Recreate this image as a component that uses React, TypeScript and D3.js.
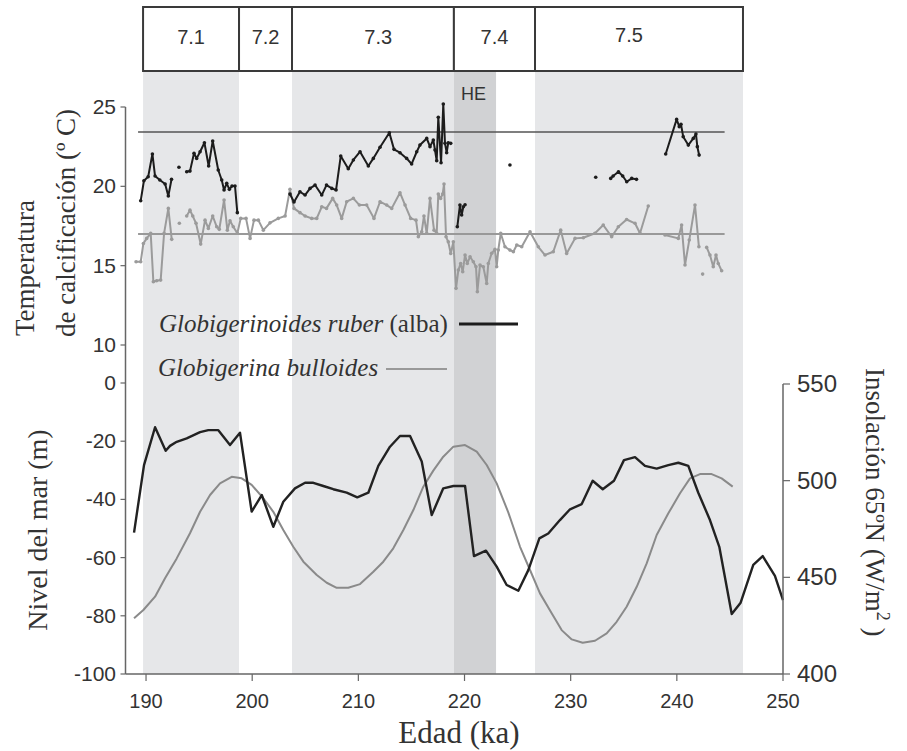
import React from 'react';
import * as d3 from 'd3';

// MIS 7 substages (ka) and the Heinrich event band
const stageLabels = ['7.1', '7.2', '7.3', '7.4', '7.5'];
const stageBounds = [189.72, 198.76, 203.75, 219.0, 226.64, 246.23];
const stageLabelAges = [189.72 + 4.52, 198.76 + 2.5, 203.75 + 8.12, 219.0 + 3.82, 235.49];
const shadedStages = ['7.1', '7.3', '7.5'];
const heBand = [219.0, 222.97];

// reference temperatures (ºC)
const ruberRef = 23.42;
const bulloidesRef = 17.0;
const refLineAges = [189.25, 244.5];

// Globigerinoides ruber (alba) temperature segments [age ka, ºC]
const ruberSegments: number[][][] = [
  [[189.5, 19.09], [189.8, 20.35], [190.2, 20.6], [190.6, 22.04], [190.85, 20.65], [191.3, 20.4], [191.8, 20.15], [192.1, 19.39], [192.4, 20.44]],
  [[193.1, 21.2]],
  [[193.83, 20.92], [194.14, 20.96], [194.52, 22.08], [194.77, 21.76], [195.09, 22.18], [195.5, 22.75], [195.9, 21.28], [196.28, 22.86], [196.8, 21.03], [197.13, 20.4], [197.35, 19.77], [197.6, 20.19], [197.85, 19.81], [198.1, 20.02], [198.38, 20.02], [198.6, 18.34]],
  [[203.56, 19.51], [203.94, 19.01], [204.5, 19.66], [204.98, 19.45], [205.45, 19.87], [205.92, 20.08], [206.55, 19.45], [207.0, 20.08], [207.5, 19.87], [207.9, 19.77], [208.34, 21.91], [209.05, 21.11], [209.53, 21.66], [210.16, 22.18], [210.94, 21.28], [211.41, 21.76], [212.04, 22.46], [212.92, 23.38], [213.36, 22.33], [213.92, 22.12], [214.55, 21.76], [215.02, 21.41], [215.5, 22.18], [215.8, 22.6], [216.44, 23.02], [216.75, 22.5], [217.06, 22.92], [217.22, 22.29], [217.38, 21.61], [217.53, 24.35], [217.79, 21.49], [218.0, 25.19], [218.16, 22.71], [218.32, 22.12], [218.47, 22.75], [218.7, 22.71]],
  [[219.32, 17.45], [219.57, 18.82], [219.73, 18.19], [219.89, 18.71]],
  [[220.05, 18.84]],
  [[224.28, 21.34]],
  [[232.36, 20.57]],
  [[233.77, 20.5], [234.0, 20.65], [234.5, 20.92], [234.9, 20.65], [235.28, 20.29], [235.75, 20.5], [236.2, 20.44]],
  [[238.95, 22.04], [239.98, 24.22], [240.23, 23.76], [240.39, 23.91], [240.6, 23.13], [241.08, 22.6], [241.55, 23.02], [241.8, 23.3], [241.93, 22.5], [242.1, 21.97]],
];

// Globigerina bulloides temperature segments [age ka, ºC]
const bulloidesSegments: number[][][] = [
  [[189.06, 15.25], [189.5, 15.25], [189.75, 16.4], [190.06, 16.72], [190.44, 17.04], [190.69, 13.99], [191.0, 14.05], [191.38, 14.09], [191.7, 17.04], [192.1, 18.61], [192.42, 16.66]],
  [[193.14, 17.67]],
  [[193.83, 18.13], [194.14, 18.5], [194.4, 18.13], [194.71, 17.67], [195.15, 16.36], [195.56, 17.87], [195.87, 17.35], [196.28, 18.13], [196.66, 17.45], [196.9, 17.29], [197.35, 19.14], [197.66, 17.24], [197.91, 17.83], [198.22, 17.45], [198.6, 17.04], [198.92, 17.98], [199.42, 17.98], [199.8, 16.72], [200.17, 17.87], [200.58, 17.87], [201.05, 17.24], [201.68, 17.7], [202.46, 17.98], [203.1, 18.13], [203.56, 19.81], [203.94, 18.61], [204.5, 18.34], [204.98, 18.13], [205.6, 17.98], [206.08, 17.98], [206.55, 18.71], [207.0, 18.61], [207.58, 19.24], [207.96, 18.82], [208.43, 17.98], [208.9, 19.03], [209.53, 19.24], [210.1, 18.82], [210.78, 18.82], [211.47, 17.98], [212.04, 19.03], [212.67, 18.82], [213.14, 18.61], [213.92, 19.6], [214.4, 18.82], [214.93, 17.98], [215.43, 17.87], [215.65, 16.82], [215.97, 17.14], [216.18, 18.13], [216.44, 17.04], [216.75, 19.24], [217.13, 17.24], [217.38, 17.04], [217.53, 19.51], [217.75, 19.24], [217.94, 19.51], [218.07, 20.14], [218.26, 16.82], [218.47, 16.5], [218.7, 15.77], [218.95, 16.5], [219.2, 13.57], [219.42, 14.72], [219.64, 15.14], [219.83, 14.62], [220.05, 15.67], [220.26, 15.14], [220.52, 15.56], [220.83, 15.25], [221.08, 14.93], [221.21, 13.36], [221.46, 15.04], [221.77, 14.93], [222.09, 13.88], [222.24, 15.14], [222.56, 15.78], [222.87, 16.03], [223.03, 14.93], [223.18, 15.98], [223.41, 17.04], [223.81, 16.19], [224.28, 15.98], [224.6, 15.88], [224.92, 16.3], [225.39, 16.19], [226.17, 17.14], [226.95, 16.19], [227.58, 15.67], [228.36, 15.88], [229.06, 17.24], [229.62, 15.77], [230.41, 16.72], [231.19, 16.76], [232.29, 17.04], [233.07, 17.56], [233.86, 16.82], [234.49, 17.45], [235.27, 17.91], [236.06, 17.67], [236.53, 17.04], [237.31, 18.76]],
  [[238.88, 16.93], [240.14, 16.72], [240.45, 17.56], [240.77, 15.04], [241.17, 16.61], [241.71, 18.82], [242.08, 16.19]],
  [[242.43, 14.47]],
  [[242.81, 16.15], [243.12, 15.67], [243.43, 14.93], [243.69, 15.67], [243.9, 15.14], [244.22, 14.68]],
];

// sea level (m) [age ka, m]
const seaLevel: number[][] = [
  [188.87, -51.4], [189.81, -28.2], [190.85, -15.2], [191.85, -23.3], [192.26, -21.6], [192.89, -20.2], [193.83, -19.0], [195.09, -16.9], [195.87, -16.2], [196.81, -16.2], [197.91, -21.3], [198.85, -17.1], [199.95, -44.2], [200.9, -38.5], [201.99, -49.4], [202.93, -40.8], [204.03, -36.2], [204.98, -34.3], [205.76, -34.3], [206.7, -35.4], [207.64, -36.5], [208.9, -37.7], [209.9, -39.3], [210.94, -37.7], [211.88, -28.5], [212.98, -21.9], [213.92, -18.2], [214.87, -18.2], [215.97, -27.0], [216.91, -45.4], [218.0, -36.2], [218.95, -35.4], [220.05, -35.4], [220.89, -59.5], [222.02, -57.6], [223.03, -63.1], [223.97, -69.4], [225.07, -71.4], [226.01, -64.3], [227.05, -53.4], [227.89, -51.7], [228.99, -47.1], [229.94, -43.4], [231.04, -41.6], [232.07, -33.6], [233.02, -36.5], [234.08, -33.6], [235.02, -26.5], [236.06, -25.5], [237.0, -28.5], [238.1, -29.4], [239.2, -28.2], [240.14, -27.4], [241.08, -28.5], [242.02, -37.7], [243.12, -47.1], [244.0, -56.3], [245.17, -79.4], [246.01, -75.5], [247.2, -62.5], [248.09, -59.5], [249.24, -66.3], [250.0, -74.6],
];

// 65ºN summer insolation (W/m2) [age ka, W/m2]
const insolation: number[][] = [
  [188.87, 428.8], [189.75, 433.1], [190.85, 440.0], [191.79, 449.5], [192.89, 459.8], [194.14, 472.8], [195.09, 483.9], [196.03, 492.6], [196.97, 498.6], [198.07, 502.0], [199.01, 501.2], [199.95, 497.8], [201.05, 490.9], [201.99, 483.9], [202.93, 474.5], [203.87, 465.8], [204.82, 458.1], [206.08, 451.2], [207.02, 447.2], [207.96, 444.6], [209.05, 444.6], [210.16, 446.5], [211.41, 452.9], [212.35, 458.1], [213.29, 465.0], [214.24, 474.5], [215.18, 484.8], [216.12, 496.9], [217.06, 505.2], [218.0, 512.4], [218.95, 517.6], [220.05, 518.4], [221.15, 515.0], [222.09, 508.1], [223.03, 498.6], [224.13, 483.5], [225.23, 465.8], [226.17, 453.8], [227.11, 441.7], [228.21, 431.4], [229.15, 422.7], [230.1, 417.9], [231.13, 416.2], [232.29, 417.2], [233.39, 421.0], [234.33, 427.0], [235.27, 434.8], [236.22, 445.1], [237.16, 457.2], [238.1, 471.9], [239.2, 483.1], [240.3, 493.5], [241.24, 501.2], [242.18, 503.4], [243.28, 503.4], [244.22, 501.2], [245.26, 496.9],
];

const ageTicks = [190, 200, 210, 220, 230, 240, 250];
const tempTicks = [25, 20, 15, 10];
const seaTicks = [0, -20, -40, -60, -80, -100];
const insolTicks = [400, 450, 500, 550];

const SERIF = '"Liberation Serif", "DejaVu Serif", serif';
const SANS = '"Liberation Sans", Arial, sans-serif';

export default function App() {
  const x = d3.scaleLinear().domain([188, 250]).range([124.8, 783]);
  const yTemp = d3.scaleLinear().domain([10, 25]).range([345, 107]);
  const ySea = d3.scaleLinear().domain([-100, 0]).range([674, 383]);
  const yIns = d3.scaleLinear().domain([400, 550]).range([674, 384]);

  const tempLine = d3.line<number[]>().x(d => x(d[0])).y(d => yTemp(d[1]));
  const seaLine = d3.line<number[]>().x(d => x(d[0])).y(d => ySea(d[1]));
  const insLine = d3.line<number[]>().x(d => x(d[0])).y(d => yIns(d[1]));

  const boxTop = 7;
  const boxBottom = 71;
  const plotBottom = ySea(-100);
  const axisX = 125.5;
  const rightX = 783;

  const renderSeries = (segs: number[][][], color: string, key: string) => (
    <g key={key}>
      {segs.map((s, i) => s.length > 1 ? (
        <path key={i} d={tempLine(s) || ''} fill="none" stroke={color} strokeWidth={2} strokeLinejoin="round" />
      ) : null)}
      {segs.flat().map((d, i) => (
        <circle key={'p' + i} cx={x(d[0])} cy={yTemp(d[1])} r={1.8} fill={color} />
      ))}
    </g>
  );

  return (
    <svg width={907} height={751} style={{ position: 'absolute', left: 0, top: 0, background: '#fff' }}>
      {/* shaded substage bands */}
      {stageLabels.map((s, i) => shadedStages.includes(s) ? (
        <rect key={s} x={x(stageBounds[i])} y={boxBottom} width={x(stageBounds[i + 1]) - x(stageBounds[i])}
          height={plotBottom - boxBottom} fill="#e6e7e9" />
      ) : null)}
      <rect x={x(heBand[0])} y={boxBottom} width={x(heBand[1]) - x(heBand[0])} height={plotBottom - boxBottom} fill="#d1d2d4" />
      <text x={x(heBand[0]) + 7} y={100} fontFamily={SANS} fontSize={18} fill="#333">HE</text>

      {/* substage boxes */}
      {stageLabels.map((s, i) => (
        <g key={'b' + s}>
          <rect x={x(stageBounds[i])} y={boxTop} width={x(stageBounds[i + 1]) - x(stageBounds[i])} height={boxBottom - boxTop}
            fill="#fff" stroke="#3a3a3a" strokeWidth={2} />
          <text x={x(stageLabelAges[i])} y={i === 4 ? 42 : 43.5} textAnchor="middle" fontFamily={SANS} fontSize={20} fill="#333">{s}</text>
        </g>
      ))}

      {/* reference lines */}
      <line x1={x(refLineAges[0])} x2={x(refLineAges[1])} y1={yTemp(ruberRef)} y2={yTemp(ruberRef)} stroke="#555" strokeWidth={1.5} />
      <line x1={x(refLineAges[0])} x2={x(refLineAges[1])} y1={yTemp(bulloidesRef)} y2={yTemp(bulloidesRef)} stroke="#999" strokeWidth={2} />

      {renderSeries(bulloidesSegments, '#9b9b9b', 'bul')}
      {renderSeries(ruberSegments, '#1c1c1c', 'rub')}

      {/* lower panel */}
      <path d={insLine(insolation) || ''} fill="none" stroke="#8a8a8a" strokeWidth={2} strokeLinejoin="round" />
      <path d={seaLine(seaLevel) || ''} fill="none" stroke="#222" strokeWidth={2.4} strokeLinejoin="round" />

      {/* legend */}
      <text x={159} y={332} fontFamily={SERIF} fontSize={25} fill="#333">
        <tspan fontStyle="italic">Globigerinoides ruber</tspan> (alba)
      </text>
      <line x1={459} x2={518} y1={324} y2={324} stroke="#1c1c1c" strokeWidth={3} />
      <text x={158} y={376} fontFamily={SERIF} fontSize={25} fontStyle="italic" fill="#333">Globigerina bulloides</text>
      <line x1={386} x2={447} y1={369} y2={369} stroke="#999" strokeWidth={2} />

      {/* left axis */}
      <line x1={axisX} x2={axisX} y1={yTemp(25)} y2={plotBottom} stroke="#666" strokeWidth={1.5} />
      {tempTicks.map(t => (
        <g key={'t' + t}>
          <line x1={axisX - 5} x2={axisX} y1={yTemp(t)} y2={yTemp(t)} stroke="#666" strokeWidth={1.2} />
          <text x={116} y={yTemp(t) + 7} textAnchor="end" fontFamily={SANS} fontSize={21} fill="#333">{t}</text>
        </g>
      ))}
      {seaTicks.map(t => (
        <g key={'s' + t}>
          <line x1={axisX - 5} x2={axisX} y1={ySea(t)} y2={ySea(t)} stroke="#666" strokeWidth={1.2} />
          <text x={116} y={ySea(t) + 7} textAnchor="end" fontFamily={SANS} fontSize={21} fill="#333">{t}</text>
        </g>
      ))}

      {/* right axis */}
      <line x1={rightX} x2={rightX} y1={yIns(550)} y2={plotBottom} stroke="#666" strokeWidth={1.5} />
      {insolTicks.map(t => (
        <g key={'i' + t}>
          <line x1={rightX} x2={rightX + 7} y1={yIns(t)} y2={yIns(t)} stroke="#666" strokeWidth={1.2} />
          <text x={797} y={yIns(t) + 8} fontFamily={SANS} fontSize={24} fill="#333">{t}</text>
        </g>
      ))}

      {/* bottom axis */}
      <line x1={axisX} x2={rightX} y1={plotBottom} y2={plotBottom} stroke="#666" strokeWidth={1.5} />
      {ageTicks.map(t => (
        <g key={'a' + t}>
          <line x1={x(t)} x2={x(t)} y1={plotBottom} y2={plotBottom + 7} stroke="#666" strokeWidth={1.2} />
          <text x={x(t)} y={708} textAnchor="middle" fontFamily={SANS} fontSize={20} fill="#333">{t}</text>
        </g>
      ))}

      {/* axis titles */}
      <text x={459} y={743} textAnchor="middle" fontFamily={SERIF} fontSize={31} fill="#333">Edad (ka)</text>
      <text transform="translate(34,336) rotate(-90)" fontFamily={SERIF} fontSize={27} fill="#333">Temperatura</text>
      <text transform="translate(75,337) rotate(-90)" fontFamily={SERIF} fontSize={27} fill="#333">de calcificación (º C)</text>
      <text transform="translate(47,530) rotate(-90)" textAnchor="middle" fontFamily={SERIF} fontSize={28} fill="#333">Nivel del mar  (m)</text>
      <text transform="translate(866,368) rotate(90)" fontFamily={SERIF} fontSize={27} fill="#333">
        Insolación 65ºN (W/m<tspan dy={-11} fontSize={18}>2</tspan><tspan dy={11}> )</tspan>
      </text>
    </svg>
  );
}
